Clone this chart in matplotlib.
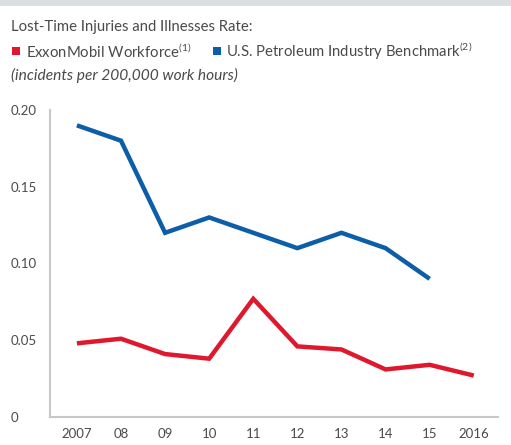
import matplotlib
matplotlib.use("Agg")
import matplotlib.pyplot as plt
from matplotlib.patches import Rectangle

years = ["2007", "08", "09", "10", "11", "12", "13", "14", "15", "2016"]
exxon = [0.048, 0.051, 0.041, 0.038, 0.077, 0.046, 0.044, 0.031, 0.034, 0.027]
benchmark = [0.19, 0.18, 0.12, 0.13, 0.12, 0.11, 0.12, 0.11, 0.09]
yticks = [0, 0.05, 0.10, 0.15, 0.20]
ytick_labels = ["0", "0.05", "0.10", "0.15", "0.20"]

RED = "#e0182d"
BLUE = "#0c5ea8"
TXT = "#4a4a4a"
GRID = "#c8c8c8"

plt.rcParams['font.family'] = ['Lato', 'DejaVu Sans']

fig = plt.figure(figsize=(5.11, 4.45), dpi=100)
fig.patch.set_facecolor("white")
# top grey band
fig.patches.append(Rectangle((0, 1 - 6 / 445), 1, 6 / 445, transform=fig.transFigure,
                             facecolor="#dcdfe2", edgecolor="none"))

ax = fig.add_axes([50 / 511, 1 - 417 / 445, 448 / 511, 307 / 445])
x = list(range(len(years)))
ax.plot(x, exxon, color=RED, lw=3.2, solid_joinstyle="miter", solid_capstyle="butt")
ax.plot(x[:len(benchmark)], benchmark, color=BLUE, lw=3.2, solid_joinstyle="miter", solid_capstyle="butt")

ax.set_xlim(-0.61, 9.55)
ax.set_ylim(0, 0.20)
ax.set_yticks(yticks)
ax.set_yticklabels(ytick_labels)
ax.set_xticks(x)
ax.set_xticklabels(years)
ax.tick_params(axis="both", length=0, labelsize=9.5, colors=TXT)
ax.tick_params(axis="y", pad=28)
ax.tick_params(axis="x", pad=8)
for lab in ax.get_yticklabels():
    lab.set_horizontalalignment("left")
for s in ["top", "right"]:
    ax.spines[s].set_visible(False)
for s in ["left", "bottom"]:
    ax.spines[s].set_color(GRID)
    ax.spines[s].set_linewidth(1.5)

fig.text(11 / 511, 1 - 27 / 445, "Lost-Time Injuries and Illnesses Rate:", fontsize=10.7,
         color=TXT, va="center", ha="left")
# legend
fig.patches.append(Rectangle((12 / 511, 1 - 55 / 445), 8 / 511, 8 / 445, transform=fig.transFigure,
                             facecolor=RED, edgecolor="none"))
fig.text(26 / 511, 1 - 51 / 445, r"ExxonMobil Workforce$^{\mathregular{(1)}}$", fontsize=10.7,
         color=TXT, va="center", ha="left")
fig.patches.append(Rectangle((213 / 511, 1 - 55 / 445), 8 / 511, 8 / 445, transform=fig.transFigure,
                             facecolor=BLUE, edgecolor="none"))
fig.text(226 / 511, 1 - 51 / 445, r"U.S. Petroleum Industry Benchmark$^{\mathregular{(2)}}$", fontsize=10.7,
         color=TXT, va="center", ha="left")
fig.text(11 / 511, 1 - 75 / 445, "(incidents per 200,000 work hours)", fontsize=11.2,
         color=TXT, va="center", ha="left", style="italic")

fig.savefig("out.png", dpi=100, facecolor="white")
